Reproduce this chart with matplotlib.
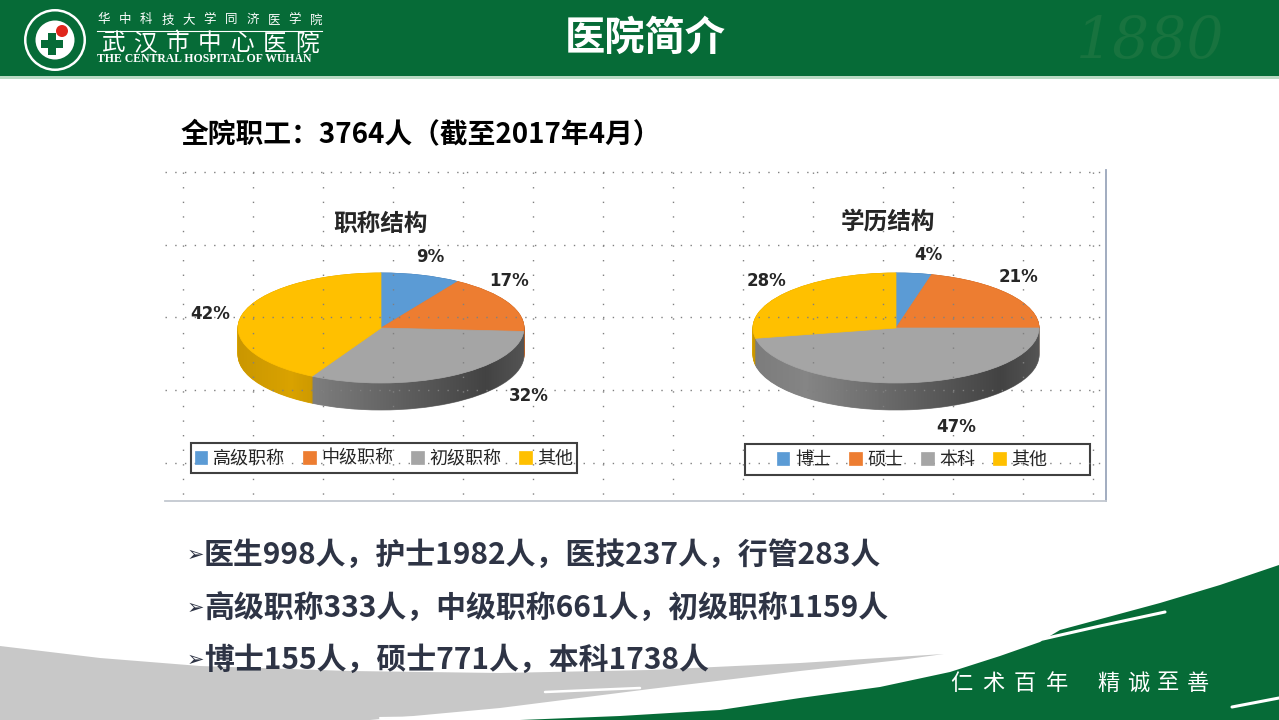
import numpy as np
import matplotlib
matplotlib.use('Agg')
import matplotlib.pyplot as plt
from matplotlib.patches import Rectangle, Polygon, Circle, PathPatch
from matplotlib.path import Path

CJK = ['Noto Sans CJK SC', 'DejaVu Sans']
plt.rcParams['font.family'] = CJK

# ---------------- data ----------------
rank_cats = ['高级职称', '中级职称', '初级职称', '其他']
rank_pct = [9, 17, 32, 42]
edu_cats = ['博士', '硕士', '本科', '其他']
edu_pct = [4, 21, 47, 28]
staff_total = 3764
roles = ['医生', '护士', '医技', '行管']
role_counts = [998, 1982, 237, 283]
rank_counts = [333, 661, 1159]
edu_counts = [155, 771, 1738]
pie_colors = ['#5b9bd5', '#ed7d31', '#a5a5a5', '#ffc000']
side_colors = ['#3f74a8', '#b85d20', '#858585', '#d9a200']

W, H = 1279, 720
fig = plt.figure(figsize=(W / 100, H / 100), dpi=100)
fig.patch.set_facecolor('white')


def fx(x):
    return x / W


def fy(y):
    return 1 - y / H


# ---------------- background ----------------
bg = fig.add_axes([0, 0, 1, 1], zorder=0)
bg.set_xlim(0, W)
bg.set_ylim(H, 0)
bg.axis('off')

GREEN = '#066b37'
bg.add_patch(Rectangle((0, 0), W, 76, color=GREEN, lw=0))
bg.add_patch(Rectangle((0, 76), W, 3, color='#b9d9c3', lw=0))

# gray brush stroke
gray_pts = [(0, 646), (100, 658), (200, 666), (350, 671), (500, 673), (650, 670),
            (800, 663), (944, 654), (900, 660), (800, 671), (650, 689), (500, 708),
            (370, 720), (0, 720)]
bg.add_patch(Polygon(gray_pts, closed=True, color='#c8c8c8', lw=0))
bg.plot([545, 640], [692, 688], color='white', lw=1.8, solid_capstyle='round')
bg.plot([610, 700], [706, 700], color='white', lw=1.5, solid_capstyle='round')
bg.plot([380, 520], [718, 716], color='white', lw=1.5, solid_capstyle='round')

# green brush stroke
green_pts = [(520, 720), (620, 716), (720, 710), (800, 698), (880, 687), (950, 672),
             (1000, 656), (1040, 642), (1060, 630), (1160, 603), (1220, 585),
             (1279, 565), (1279, 720)]
bg.add_patch(Polygon(green_pts, closed=True, color=GREEN, lw=0))
bg.plot([1043, 1100, 1165], [639, 626, 612], color='white', lw=2.2, solid_capstyle='round')
bg.plot([1232, 1279], [707, 698], color='white', lw=2.2, solid_capstyle='round')

# logo
bg.add_patch(Circle((55, 40), 31, color='white', lw=0))
bg.add_patch(Circle((55, 40), 28.5, color=GREEN, lw=0))
bg.add_patch(Circle((55, 40), 19.5, color='white', lw=0))
bg.add_patch(Rectangle((41, 40), 22, 8, color=GREEN, lw=0))
bg.add_patch(Rectangle((48, 33), 8, 22, color=GREEN, lw=0))
bg.add_patch(Circle((62, 31), 6, color='#e0261c', lw=0))
bg.plot([97, 322], [31, 31], color='white', lw=0.8)

# ---------------- pies ----------------
def pie3d(cx, cy, rx, ry, depth_px, values, cats, legend_center):
    pad = 4
    d = depth_px / ry
    ax = fig.add_axes([fx(cx - rx - pad), fy(cy + ry + depth_px + pad),
                       (2 * rx + 2 * pad) / W, (2 * ry + depth_px + 2 * pad) / H], zorder=1)
    for off in np.linspace(d, 0.0, 45):
        wedges, _ = ax.pie(values, colors=side_colors, startangle=90, counterclock=False,
                           center=(0, -off), wedgeprops=dict(linewidth=0.6))
        for w in wedges:
            w.set_edgecolor(w.get_facecolor())
    # shading gradient on the side
    t = np.linspace(np.pi, 2 * np.pi, 120)
    top = np.column_stack([np.cos(t), np.sin(t)])
    bot = np.column_stack([np.cos(t[::-1]), np.sin(t[::-1]) - d])
    verts = np.vstack([top, bot])
    clip = PathPatch(Path(verts, closed=False), transform=ax.transData,
                     facecolor='none', edgecolor='none')
    ax.add_patch(clip)
    xs = np.linspace(-1, 1, 256)
    rgba = np.zeros((1, 256, 4))
    rgba[0, :, 3] = np.interp(xs, [-1, -0.6, 0.7, 1], [0.08, 0.0, 0.5, 0.35])
    im = ax.imshow(rgba, extent=(-1.05, 1.05, -1 - d - 0.05, 0.05), aspect='auto',
                   interpolation='bilinear', zorder=5)
    im.set_clip_path(clip)
    wedges, _ = ax.pie(values, colors=pie_colors, startangle=90, counterclock=False,
                       wedgeprops=dict(linewidth=0.5))
    for w in wedges:
        w.set_edgecolor(w.get_facecolor())
        w.set_zorder(6)
    ax.set_aspect('auto')
    ax.set_xlim(-1 - pad / rx, 1 + pad / rx)
    ax.set_ylim(-1 - d - pad / ry, 1 + pad / ry)
    ax.axis('off')
    fig.legend(wedges, cats, loc='center', bbox_to_anchor=(fx(legend_center[0]), fy(legend_center[1])),
               ncol=4, frameon=False, fontsize=13, handlelength=0.7, handleheight=0.7,
               handletextpad=0.3, columnspacing=1.0, labelcolor='#262626')
    return ax


pie3d(381, 328, 143, 55, 27, rank_pct, rank_cats, (384, 459))
pie3d(896, 328, 143, 55, 27, edu_pct, edu_cats, (912, 460))

# ---------------- overlay: grid + boxes ----------------
ov = fig.add_axes([0, 0, 1, 1], zorder=2)
ov.set_xlim(0, W)
ov.set_ylim(H, 0)
ov.axis('off')
ov.patch.set_alpha(0)
for gx in np.arange(183, 1100, 70):
    ov.plot([gx, gx], [172, 499], color='#808080', lw=1.0, ls=(0, (1, 9.5)))
for gy in np.linspace(172, 172 + 4 * 72.7, 5):
    ov.plot([165, 1105], [gy, gy], color='#808080', lw=1.0, ls=(0, (1, 6)))
ov.plot([1106, 1106], [170, 501], color='#9aa6bb', lw=1.3)
ov.plot([165, 1106], [500.5, 500.5], color='#c3c8d0', lw=1.3)
ov.add_patch(Rectangle((191, 443), 386, 30, fill=False, edgecolor='#404040', lw=1.5))
ov.add_patch(Rectangle((745, 444), 345, 31, fill=False, edgecolor='#404040', lw=1.5))

# ---------------- texts ----------------
fig.text(fx(645), fy(38), '医院简介', fontsize=29, weight='bold', color='white',
         ha='center', va='center')
fig.text(fx(1150), fy(42), '1880', fontsize=42, style='italic', color='#18733f',
         family='DejaVu Serif', ha='center', va='center')

for ch, x in zip('华中科技大学同济医学院', np.linspace(104, 316, 11)):
    fig.text(fx(x), fy(20), ch, fontsize=9, color='white', ha='center', va='center')
for ch, x in zip('武汉市中心医院', np.linspace(113, 307, 7)):
    fig.text(fx(x), fy(44), ch, fontsize=17, color='white', ha='center', va='center')
fig.text(fx(97), fy(59.5), 'THE CENTRAL HOSPITAL OF WUHAN', fontsize=8.5, weight='bold',
         color='white', family='Liberation Serif', ha='left', va='center')

fig.text(fx(181), fy(135), f'全院职工：{staff_total}人（截至2017年4月）', fontsize=20,
         weight='bold', color='black', ha='left', va='center')

fig.text(fx(381), fy(224), '职称结构', fontsize=17, weight='bold', color='#262626',
         ha='center', va='center')
fig.text(fx(888), fy(222), '学历结构', fontsize=17, weight='bold', color='#262626',
         ha='center', va='center')

rank_label_pos = [(430, 257), (509, 281), (529, 396), (210, 314)]
edu_label_pos = [(928, 255), (1019, 277), (956, 427), (766, 281)]
for vals, poss in ((rank_pct, rank_label_pos), (edu_pct, edu_label_pos)):
    for v, (x, y) in zip(vals, poss):
        fig.text(fx(x), fy(y), f'{v}%', fontsize=12, weight='bold', color='#262626',
                 family='DejaVu Sans', ha='center', va='center')

line1 = '，'.join(f'{r}{c}人' for r, c in zip(roles, role_counts))
line2 = '，'.join(f'{r}{c}人' for r, c in zip(rank_cats[:3], rank_counts))
line3 = '，'.join(f'{r}{c}人' for r, c in zip(edu_cats[:3], edu_counts))
for txt, y in zip([line1, line2, line3], [555, 608, 660]):
    fig.text(fx(187), fy(y), '➢', fontsize=15, color='#2e3445', family='DejaVu Sans',
             ha='left', va='center')
    fig.text(fx(204), fy(y), txt, fontsize=21.5, weight='bold', color='#2e3445',
             ha='left', va='center')

for ch, x in zip('仁术百年', np.linspace(961, 1057, 4)):
    fig.text(fx(x), fy(683), ch, fontsize=16, color='white', ha='center', va='center')
for ch, x in zip('精诚至善', np.linspace(1108, 1198, 4)):
    fig.text(fx(x), fy(683), ch, fontsize=16, color='white', ha='center', va='center')

fig.savefig('out.png', dpi=100, facecolor='white')
